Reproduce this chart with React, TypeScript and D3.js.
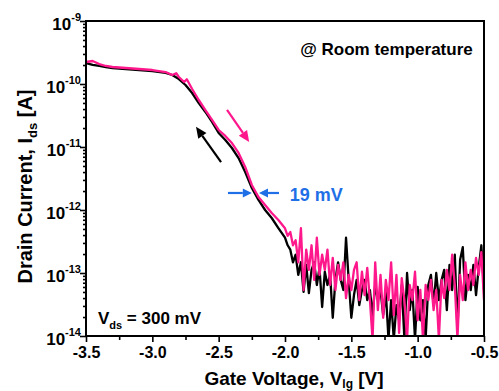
import { useEffect, useRef } from 'react';
import * as d3 from 'd3';

const W = 499;
const H = 391;

// Transfer curves, log10(Ids [A]) vs gate voltage [V]
// Smooth (subthreshold) part, read point by point
const pinkSmoothV = [-3.5, -3.45, -3.4, -3.35, -3.3, -3.2, -3.1, -3.0, -2.9, -2.85, -2.82, -2.8, -2.76, -2.74, -2.7, -2.65, -2.6, -2.55, -2.5, -2.45, -2.4, -2.35, -2.3, -2.25, -2.2, -2.15, -2.1, -2.05];
const pinkSmoothLogI = [-9.651, -9.635, -9.683, -9.714, -9.73, -9.746, -9.762, -9.778, -9.81, -9.857, -9.83, -9.889, -9.968, -9.925, -10.079, -10.254, -10.413, -10.571, -10.73, -10.825, -10.937, -11.095, -11.317, -11.603, -11.794, -11.921, -12.048, -12.159];

const blackSmoothV = [-3.5, -3.45, -3.4, -3.35, -3.3, -3.2, -3.1, -3.0, -2.9, -2.85, -2.8, -2.75, -2.7, -2.65, -2.6, -2.55, -2.5, -2.45, -2.4, -2.35, -2.3, -2.25, -2.2, -2.15, -2.1, -2.05];
const blackSmoothLogI = [-9.667, -9.698, -9.714, -9.73, -9.746, -9.762, -9.778, -9.794, -9.825, -9.857, -9.921, -10.016, -10.143, -10.302, -10.444, -10.603, -10.778, -10.889, -11.016, -11.175, -11.397, -11.651, -11.841, -12.0, -12.127, -12.286];

// Noise-floor part, sampled every 20 mV from -2.0 V to -0.5 V
const noiseStartV = -2.0;
const noiseStepV = 0.02;
const pinkNoiseLogI = [
  -12.29, -12.41, -12.35, -12.56, -12.48, -12.83, -12.29, -13.27, -12.63, -12.95,
  -12.56, -13.11, -12.44, -13.03, -12.71, -12.95, -12.63, -13.19, -12.76, -13.27,
  -12.87, -13.11, -12.83, -13.4, -13.03, -13.27, -12.95, -12.83, -13.43, -12.98,
  -13.35, -12.92, -13.43, -14.05, -12.83, -13.59, -13.03, -13.71, -13.11, -13.43,
  -12.83, -13.67, -13.03, -13.95, -13.08, -13.43, -14.05, -13.19, -13.43, -12.98,
  -13.75, -13.27, -14.05, -13.19, -13.43, -13.11, -13.59, -13.27, -14.05, -13.11,
  -13.4, -12.95, -13.27, -12.71, -13.19, -14.05, -13.03, -13.43, -12.83, -13.27,
  -12.95, -13.19, -12.76, -13.03, -12.67, -13.43,
];
const blackNoiseLogI = [
  -12.44, -12.56, -12.63, -12.83, -12.71, -13.03, -12.83, -13.3, -12.87, -13.32,
  -12.95, -12.83, -13.19, -12.92, -13.54, -12.98, -13.19, -13.03, -13.71, -13.11,
  -12.83, -13.11, -13.27, -12.44, -13.11, -13.71, -13.35, -13.11, -13.51, -13.27,
  -13.11, -13.43, -13.27, -13.67, -13.19, -13.43, -13.27, -13.67, -13.3, -14.05,
  -13.43, -14.05, -13.51, -13.75, -13.19, -14.05, -13.0, -13.59, -13.27, -14.05,
  -13.22, -13.75, -13.43, -14.05, -13.19, -13.03, -13.51, -13.0, -13.43, -13.11,
  -12.95, -13.59, -12.87, -13.27, -12.71, -13.9, -12.79, -12.59, -13.43, -13.03,
  -13.27, -12.87, -13.35, -12.92, -12.56, -13.27,
];

const xTicks = [-3.5, -3.0, -2.5, -2.0, -1.5, -1.0, -0.5];
const xMinorTicks = [-3.25, -2.75, -2.25, -1.75, -1.25, -0.75];
const yDecades = [-14, -13, -12, -11, -10, -9];

const PINK = '#ff178c';
const BLUE = '#1f6fe6';
const FONT = '"Liberation Sans", Arial, Helvetica, sans-serif';

export default function App() {
  const svgRef = useRef<SVGSVGElement>(null);

  useEffect(() => {
    if (!svgRef.current) return;
    const margin = { top: 21, right: 15, bottom: 55, left: 86 };
    const svg = d3.select(svgRef.current);
    svg.selectAll('*').remove();
    svg.attr('width', W).attr('height', H).style('font-family', FONT);

    const x = d3.scaleLinear().domain([-3.5, -0.5]).range([margin.left, W - margin.right]);
    const y = d3.scaleLog().domain([1e-14, 1e-9]).range([H - margin.bottom, margin.top]);
    const x0 = margin.left;
    const x1 = W - margin.right;
    const y0 = H - margin.bottom;
    const y1 = margin.top;

    svg.append('rect').attr('width', W).attr('height', H).attr('fill', '#fff');

    svg
      .append('clipPath')
      .attr('id', 'plot-clip')
      .append('rect')
      .attr('x', x0)
      .attr('y', y1)
      .attr('width', x1 - x0)
      .attr('height', y0 - y1);

    // build the sweep series
    const toPts = (vs: number[], ls: number[]) => vs.map((v, i) => ({ v, i: Math.pow(10, ls[i]) }));
    const noisePts = (ls: number[]) => ls.map((l, k) => ({ v: noiseStartV + k * noiseStepV, i: Math.pow(10, l) }));
    const black = [...toPts(blackSmoothV, blackSmoothLogI), ...noisePts(blackNoiseLogI)];
    const pink = [...toPts(pinkSmoothV, pinkSmoothLogI), ...noisePts(pinkNoiseLogI)];

    const line = d3
      .line<{ v: number; i: number }>()
      .x((d) => x(d.v))
      .y((d) => y(d.i));

    const plot = svg.append('g').attr('clip-path', 'url(#plot-clip)');
    plot.append('path').datum(black).attr('d', line).attr('fill', 'none').attr('stroke', '#000').attr('stroke-width', 2.3).attr('stroke-linejoin', 'round');
    plot.append('path').datum(pink).attr('d', line).attr('fill', 'none').attr('stroke', PINK).attr('stroke-width', 2.3).attr('stroke-linejoin', 'round');

    // Axes
    const styleAxis = (g: d3.Selection<SVGGElement, unknown, null, undefined>) => {
      g.select('.domain').remove();
      g.selectAll('.tick line').attr('stroke', '#000').attr('stroke-width', 1.6);
    };

    svg
      .append('g')
      .attr('transform', `translate(0,${y0})`)
      .call(d3.axisBottom(x).tickValues(xTicks).tickSize(6).tickFormat((d) => (d as number).toFixed(1)))
      .call(styleAxis)
      .selectAll('text')
      .attr('fill', '#000')
      .attr('dy', null)
      .attr('y', 22)
      .style('font-size', '16px')
      .style('font-weight', 'bold')
      .style('font-family', FONT);

    svg
      .append('g')
      .attr('transform', `translate(0,${y0})`)
      .call(d3.axisBottom(x).tickValues(xMinorTicks).tickSize(4).tickFormat(() => ''))
      .call(styleAxis);

    const yMajor = yDecades.map((d) => Math.pow(10, d));
    const yMinor: number[] = [];
    yDecades.slice(0, -1).forEach((d) => {
      for (let k = 2; k <= 9; k++) yMinor.push(k * Math.pow(10, d));
    });

    svg
      .append('g')
      .attr('transform', `translate(${x0},0)`)
      .call(d3.axisLeft(y).tickValues(yMajor).tickSize(6).tickFormat(() => ''))
      .call(styleAxis);
    svg
      .append('g')
      .attr('transform', `translate(${x0},0)`)
      .call(d3.axisLeft(y).tickValues(yMinor).tickSize(3).tickFormat(() => ''))
      .call(styleAxis);

    // y tick labels 10^n
    yDecades.forEach((d) => {
      const t = svg
        .append('text')
        .attr('x', 81)
        .attr('y', y(Math.pow(10, d)) + 9)
        .attr('text-anchor', 'end')
        .attr('font-weight', 'bold')
        .attr('font-size', 17);
      t.append('tspan').text('10');
      t.append('tspan').attr('dy', -9).attr('font-size', 11).text(`${d}`);
    });

    // frame
    svg
      .append('rect')
      .attr('x', x0)
      .attr('y', y1)
      .attr('width', x1 - x0)
      .attr('height', y0 - y1)
      .attr('fill', 'none')
      .attr('stroke', '#000')
      .attr('stroke-width', 2);

    // axis titles
    const yt = svg
      .append('text')
      .attr('transform', `translate(32,${(y0 + y1) / 2 + 8}) rotate(-90)`)
      .attr('text-anchor', 'middle')
      .attr('font-weight', 'bold')
      .attr('font-size', 20);
    yt.append('tspan').text('Drain Current, I');
    yt.append('tspan').attr('dy', 5).attr('font-size', 13).text('ds');
    yt.append('tspan').attr('dy', -5).text(' [A]');

    const xt = svg
      .append('text')
      .attr('x', 294)
      .attr('y', 385)
      .attr('text-anchor', 'middle')
      .attr('font-weight', 'bold')
      .attr('font-size', 19);
    xt.append('tspan').text('Gate Voltage, V');
    xt.append('tspan').attr('dy', 3).attr('font-size', 12).text('lg');
    xt.append('tspan').attr('dy', -3).text(' [V]');

    // annotations
    const arrow = (vA: number, iA: number, vB: number, iB: number, color: string, len = 10, half = 4.5) => {
      const ax = x(vA), ay = y(iA), bx = x(vB), by = y(iB);
      const ang = Math.atan2(by - ay, bx - ax);
      const cx = bx - len * Math.cos(ang), cy = by - len * Math.sin(ang);
      svg.append('line').attr('x1', ax).attr('y1', ay).attr('x2', cx).attr('y2', cy).attr('stroke', color).attr('stroke-width', 2.2);
      const px = -Math.sin(ang) * half, py = Math.cos(ang) * half;
      svg
        .append('path')
        .attr('d', `M${bx},${by}L${cx + px},${cy + py}L${cx - px},${cy - py}Z`)
        .attr('fill', color);
    };

    arrow(-2.437, 10 ** -10.41, -2.27, 10 ** -10.92, PINK, 11, 5);
    arrow(-2.482, 10 ** -11.24, -2.671, 10 ** -10.68, '#000', 11, 5);
    arrow(-2.43, 10 ** -11.73, -2.25, 10 ** -11.73, BLUE, 9, 4.5);
    arrow(-2.045, 10 ** -11.73, -2.196, 10 ** -11.73, BLUE, 9, 4.5);

    svg
      .append('text')
      .attr('x', x(-1.965))
      .attr('y', y(10 ** -11.85))
      .attr('fill', BLUE)
      .attr('font-weight', 'bold')
      .attr('font-size', 18)
      .text('19 mV');

    svg
      .append('text')
      .attr('x', x(-0.585))
      .attr('y', y(10 ** -9.54))
      .attr('text-anchor', 'end')
      .attr('font-weight', 'bold')
      .attr('font-size', 17)
      .text('@ Room temperature');

    const vt = svg
      .append('text')
      .attr('x', x(-3.41))
      .attr('y', y(10 ** -13.81))
      .attr('font-weight', 'bold')
      .attr('font-size', 17);
    vt.append('tspan').text('V');
    vt.append('tspan').attr('dy', 5).attr('font-size', 11).text('ds');
    vt.append('tspan').attr('dy', -5).text(' = 300 mV');
  }, []);

  return <svg ref={svgRef} style={{ position: 'absolute', left: 0, top: 0 }} />;
}
